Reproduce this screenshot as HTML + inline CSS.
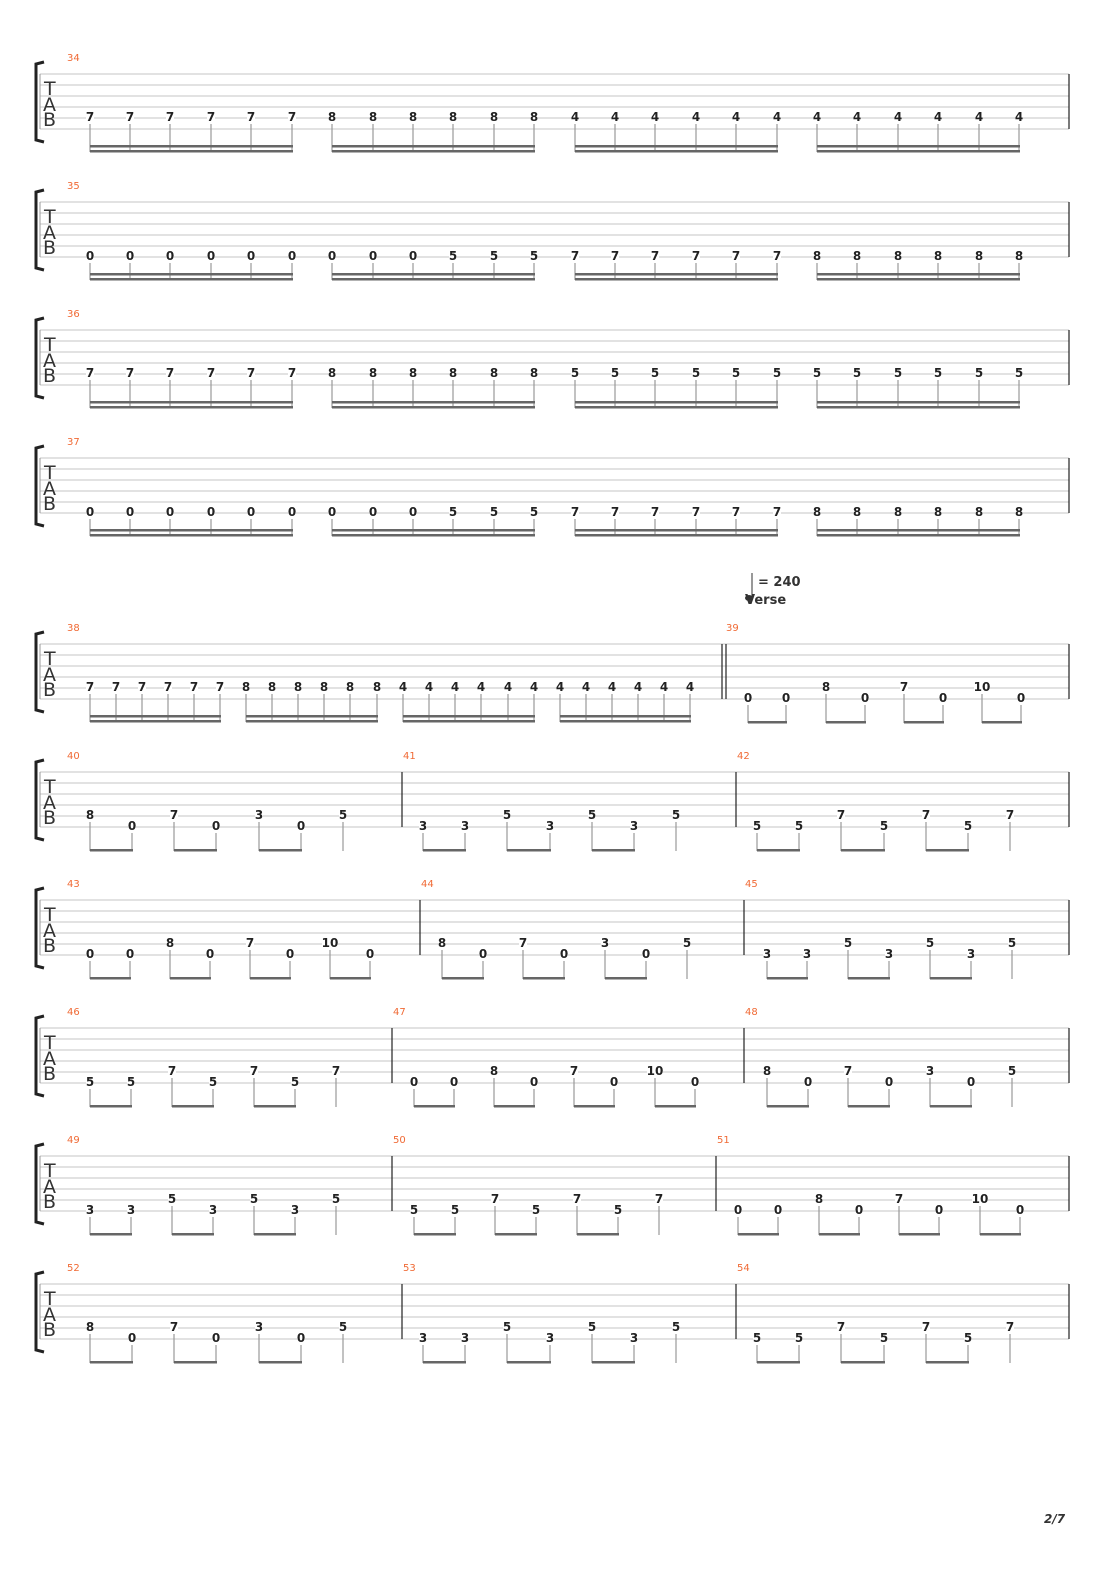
<!DOCTYPE html>
<html><head><meta charset="utf-8"><style>
html,body{margin:0;padding:0;background:#fff;}
svg{display:block;font-family:"DejaVu Sans","Liberation Sans",sans-serif;}
</style></head><body>
<svg id="s" width="1110" height="1570" xmlns="http://www.w3.org/2000/svg"></svg>
<script>
const S=document.getElementById('s');let h='';
function staff(top,bars,nums){
  for(let i=0;i<6;i++){const y=top+i*11;h+=`<line x1="40" y1="${y}" x2="1069" y2="${y}" stroke="#c4c4c4" stroke-width="1"/>`;}
  h+=`<path d="M44,${top-12} L36,${top-10} L36,${top+66} L44,${top+68}" fill="none" stroke="#222" stroke-width="3"/>`;
  h+=`<line x1="40" y1="${top}" x2="40" y2="${top+55}" stroke="#999" stroke-width="1"/>`;
  h+=`<text x="44" y="${top+21}" font-size="19" fill="#333">T</text><text x="43" y="${top+37}" font-size="19" fill="#333">A</text><text x="43" y="${top+52}" font-size="19" fill="#333">B</text>`;
  h+=`<line x1="1069" y1="${top}" x2="1069" y2="${top+55}" stroke="#222" stroke-width="1.2"/>`;
  bars.forEach(b=>{h+=`<line x1="${b}" y1="${top}" x2="${b}" y2="${top+55}" stroke="#222" stroke-width="1.2"/>`;});
  nums.forEach(n=>{h+=`<text x="${n[0]}" y="${top-13}" font-size="10" fill="#f06a35">${n[1]}</text>`;});
}
function note(top,x,s,f){const y=top+(s==5?44:55);
  h+=`<rect x="${x-(f.length*4)}" y="${y-6}" width="${f.length*8}" height="11" fill="#fff"/>`;
  h+=`<text x="${x}" y="${y+3}" font-size="12" font-weight="bold" text-anchor="middle" fill="#222">${f}</text>`;}
function stem(top,x,s,end){h+=`<line x1="${x}" y1="${top+(s==5?50:61)}" x2="${x}" y2="${end}" stroke="#999" stroke-width="1.2"/>`;}
function sixteen(top,xs,s,frets){
  xs.forEach((x,i)=>{note(top,x,s,String(frets[i]));stem(top,x,s,top+78);});
  for(let g=0;g<xs.length;g+=6){const a=xs[g],b=xs[g+5];
    h+=`<rect x="${a}" y="${top+71}" width="${b-a+1}" height="2.5" fill="#666"/><rect x="${a}" y="${top+76}" width="${b-a+1}" height="2.5" fill="#666"/>`;}
}
function eighth(top,notes){
  notes.forEach(n=>{note(top,n[0],n[1],String(n[2]));});
  for(let i=0;i<notes.length;i+=2){
    if(i+1<notes.length){const a=notes[i],b=notes[i+1];stem(top,a[0],a[1],top+79);stem(top,b[0],b[1],top+79);
      h+=`<rect x="${a[0]}" y="${top+77}" width="${b[0]-a[0]+1}" height="2.5" fill="#666"/>`;}
    else{stem(top,notes[i][0],notes[i][1],top+79);}
  }
}
const X24=[90,130,170,211,251,292,332,373,413,453,494,534,575,615,655,696,736,777,817,857,898,938,979,1019];
function rep(a){let r=[];a.forEach(v=>{for(let i=0;i<6;i++)r.push(v)});return r;}
staff(74,[],[[67,34]]);sixteen(74,X24,5,rep([7,8,4,4]));
staff(202,[],[[67,35]]);sixteen(202,X24,6,[0,0,0,0,0,0,0,0,0,5,5,5].concat(rep([7,8])));
staff(330,[],[[67,36]]);sixteen(330,X24,5,rep([7,8,5,5]));
staff(458,[],[[67,37]]);sixteen(458,X24,6,[0,0,0,0,0,0,0,0,0,5,5,5].concat(rep([7,8])));
staff(644,[722,726],[[67,38],[726,39]]);
sixteen(644,[90,116,142,168,194,220,246,272,298,324,350,377,403,429,455,481,508,534,560,586,612,638,664,690],5,rep([7,8,4,4]));
eighth(644,[[748,6,0],[786,6,0],[826,5,8],[865,6,0],[904,5,7],[943,6,0],[982,5,10],[1021,6,0]]);
h+=`<line x1="752" y1="573" x2="752" y2="597" stroke="#333" stroke-width="1"/><ellipse cx="749" cy="598" rx="4" ry="3" fill="#333"/>`;
h+=`<text x="758" y="586" font-size="13" font-weight="bold" fill="#333">= 240</text><text x="745" y="604" font-size="13" font-weight="bold" fill="#333">Verse</text>`;
function sysA(top,n){
  staff(top,[402,736],[[67,n],[403,n+1],[737,n+2]]);
  eighth(top,[[90,5,8],[132,6,0],[174,5,7],[216,6,0],[259,5,3],[301,6,0],[343,5,5]]);
  eighth(top,[[423,6,3],[465,6,3],[507,5,5],[550,6,3],[592,5,5],[634,6,3],[676,5,5]]);
  eighth(top,[[757,6,5],[799,6,5],[841,5,7],[884,6,5],[926,5,7],[968,6,5],[1010,5,7]]);
}
sysA(772,40);
staff(900,[420,744],[[67,43],[421,44],[745,45]]);
eighth(900,[[90,6,0],[130,6,0],[170,5,8],[210,6,0],[250,5,7],[290,6,0],[330,5,10],[370,6,0]]);
eighth(900,[[442,5,8],[483,6,0],[523,5,7],[564,6,0],[605,5,3],[646,6,0],[687,5,5]]);
eighth(900,[[767,6,3],[807,6,3],[848,5,5],[889,6,3],[930,5,5],[971,6,3],[1012,5,5]]);
staff(1028,[392,744],[[67,46],[393,47],[745,48]]);
eighth(1028,[[90,6,5],[131,6,5],[172,5,7],[213,6,5],[254,5,7],[295,6,5],[336,5,7]]);
eighth(1028,[[414,6,0],[454,6,0],[494,5,8],[534,6,0],[574,5,7],[614,6,0],[655,5,10],[695,6,0]]);
eighth(1028,[[767,5,8],[808,6,0],[848,5,7],[889,6,0],[930,5,3],[971,6,0],[1012,5,5]]);
staff(1156,[392,716],[[67,49],[393,50],[717,51]]);
eighth(1156,[[90,6,3],[131,6,3],[172,5,5],[213,6,3],[254,5,5],[295,6,3],[336,5,5]]);
eighth(1156,[[414,6,5],[455,6,5],[495,5,7],[536,6,5],[577,5,7],[618,6,5],[659,5,7]]);
eighth(1156,[[738,6,0],[778,6,0],[819,5,8],[859,6,0],[899,5,7],[939,6,0],[980,5,10],[1020,6,0]]);
sysA(1284,52);
h+=`<text x="1044" y="1523" font-size="12" font-weight="bold" font-style="italic" fill="#333">2/7</text>`;
S.innerHTML=h;
</script>
</body></html>
